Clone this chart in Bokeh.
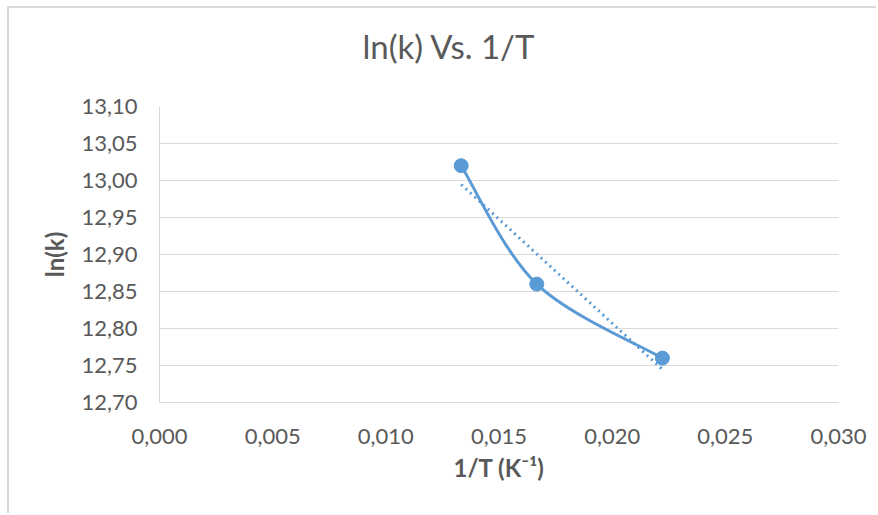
import numpy as np
from bokeh.plotting import figure
from bokeh.models import Range1d, FixedTicker, Title
from bokeh.embed import file_html
from bokeh.resources import INLINE

# Arrhenius data: inverse temperature vs. log of rate constant
inv_T = [0.01333, 0.01667, 0.02222]
ln_k = [13.02, 12.86, 12.76]

x_ticks = [0.000, 0.005, 0.010, 0.015, 0.020, 0.025, 0.030]
x_tick_labels = ["0,000", "0,005", "0,010", "0,015", "0,020", "0,025", "0,030"]
y_ticks = [12.70, 12.75, 12.80, 12.85, 12.90, 12.95, 13.00, 13.05, 13.10]
y_tick_labels = ["12,70", "12,75", "12,80", "12,85", "12,90", "12,95", "13,00", "13,05", "13,10"]

BLUE = "#5b9bd5"
TEXT = "#595959"
GRID = "#d9d9d9"
FONT = "Lato"

# canvas geometry (pixels inside the figure)
W, H = 869, 507
FL, FR, FT, FB = 150, 829, 98, 394   # frame left/right/top/bottom

X0, X1 = x_ticks[0], x_ticks[-1]
Y0, Y1 = y_ticks[0], y_ticks[-1]

p = figure(width=W, height=H, output_backend="svg", toolbar_location=None,
           x_range=Range1d(X0, X1), y_range=Range1d(Y0, Y1),
           min_border_left=FL, min_border_right=W - FR,
           min_border_top=FT, min_border_bottom=H - FB)
p.styles = {"margin-left": "7px", "margin-top": "6px",
            "border-left": "2px solid #d9d9d9", "border-top": "2px solid #d9d9d9"}
p.outline_line_color = None
p.background_fill_color = "white"
p.border_fill_color = "white"

# title, with a blank spacer panel between it and the plot area
p.title = Title(text="ln(k) Vs. 1/T", align="left", offset=203, standoff=10,
                text_font=FONT, text_font_size="33px", text_font_style="normal",
                text_color=TEXT)
p.add_layout(Title(text=" ", text_font_size="1px", standoff=33), "above")

# axes
p.xaxis.ticker = FixedTicker(ticks=x_ticks)
p.yaxis.ticker = FixedTicker(ticks=y_ticks)
p.xaxis.major_label_overrides = dict(zip(x_ticks, x_tick_labels))
p.yaxis.major_label_overrides = dict(zip(y_ticks, y_tick_labels))
for ax in (p.xaxis, p.yaxis):
    ax.axis_line_color = GRID
    ax.major_tick_line_color = None
    ax.minor_tick_line_color = None
    ax.major_tick_out = 0
    ax.major_tick_in = 0
    ax.minor_tick_out = 0
    ax.minor_tick_in = 0
    ax.major_label_text_font = FONT
    ax.major_label_text_font_size = "22px"
    ax.major_label_text_color = TEXT
    ax.axis_label_text_font = FONT
    ax.axis_label_text_font_size = "24px"
    ax.axis_label_text_font_style = "bold"
    ax.axis_label_text_color = TEXT
p.xaxis.major_label_standoff = 26
p.yaxis.major_label_standoff = 22
p.xaxis.axis_label = "1/T (K\u207b\u00b9)"
p.yaxis.axis_label = "ln(k)"
p.xaxis.axis_label_standoff = 6
p.yaxis.axis_label_standoff = 9
p.xgrid.grid_line_color = None
p.ygrid.grid_line_color = GRID
p.ygrid.grid_line_width = 1

# smoothed series line (Catmull-Rom style cubic Bezier segments)
P = np.column_stack([inv_T, ln_k])
Pad = np.vstack([P[0], P, P[-1]])
n = len(P)
c0 = np.array([Pad[i + 1] + (Pad[i + 2] - Pad[i]) / 6 for i in range(n - 1)])
c1 = np.array([Pad[i + 2] - (Pad[i + 3] - Pad[i + 1]) / 6 for i in range(n - 1)])
p.bezier(x0=P[:-1, 0], y0=P[:-1, 1], x1=P[1:, 0], y1=P[1:, 1],
         cx0=c0[:, 0], cy0=c0[:, 1], cx1=c1[:, 0], cy1=c1[:, 1],
         line_color=BLUE, line_width=3, line_cap="round")

p.scatter(inv_T, ln_k, marker="circle", size=14, fill_color=BLUE, line_color=BLUE)

# linear trendline
slope, intercept = np.polyfit(inv_T, ln_k, 1)
tx = np.array([min(inv_T), max(inv_T)])
p.line(tx, slope * tx + intercept, line_color=BLUE, line_width=3,
       line_dash="2 4", line_cap="butt")

open("out.html", "w").write(file_html(p, INLINE))
